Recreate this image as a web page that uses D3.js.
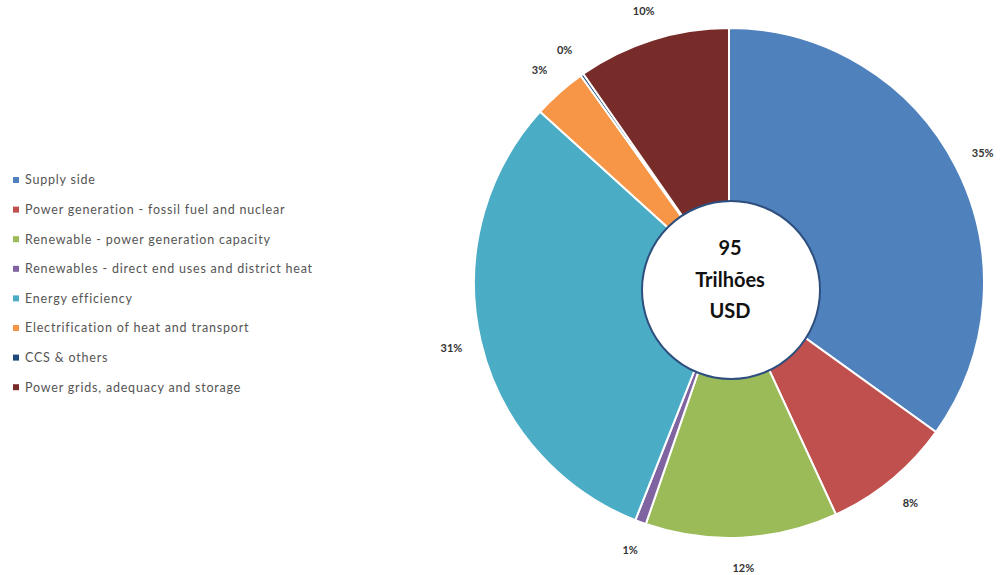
<!DOCTYPE html>
<html>
<head>
<meta charset="utf-8">
<script src="https://cdn.jsdelivr.net/npm/d3@7"></script>
<style>
  body { margin: 0; background: #fff; }
  svg { display: block; }
</style>
</head>
<body>
<div id="chart"></div>
<script>
// *** DATA ***
let categories = [
  "Supply side",
  "Power generation - fossil fuel and nuclear",
  "Renewable - power generation capacity",
  "Renewables - direct end uses and district heat",
  "Energy efficiency",
  "Electrification of heat and transport",
  "CCS & others",
  "Power grids, adequacy and storage"
];
let shares = [35, 8.2, 12.2, 0.7, 30.8, 3.4, 0.2, 9.7];
let centerLines = ["95", "Trilhões", "USD"];

// *** SETTINGS ***
let width = 1007, height = 575;
let cx = 729, cy = 283, radius = 255, labelRadius = 285;
let colors = ["#4f81bd", "#c0504d", "#9bbb59", "#8064a2", "#4bacc6", "#f79646", "#1f497d", "#772c2a"];
let lgLeft = 13, lgTop = 180, lgStep = 29.6;

let svg = d3.select("#chart").append("svg")
  .attr("width", width)
  .attr("height", height);

let total = d3.sum(shares);
let pie = d3.pie().sort(null).value(d => d)(shares);
let arc = d3.arc().innerRadius(0).outerRadius(radius);
let labelArc = d3.arc().innerRadius(labelRadius).outerRadius(labelRadius);

let g = svg.append("g").attr("transform", `translate(${cx},${cy})`);

//slices
g.selectAll("path")
  .data(pie)
  .enter()
  .append("path")
    .attr("d", arc)
    .attr("fill", (d, i) => colors[i])
    .attr("stroke", "white")
    .attr("stroke-width", 2);

//percent labels
g.selectAll("text.pct")
  .data(pie)
  .enter()
  .append("text")
    .attr("class", "pct")
    .attr("transform", d => `translate(${labelArc.centroid(d)})`)
    .attr("text-anchor", "middle")
    .attr("dy", "0.35em")
    .style("font-family", "Lato, 'Open Sans', sans-serif")
    .style("font-weight", "bold")
    .style("font-size", "11px")
    .style("fill", "#333")
    .text(d => Math.round(d.value / total * 100) + "%");

//center hole
g.append("circle")
  .attr("cx", 2)
  .attr("cy", 7)
  .attr("r", 89)
  .attr("fill", "white")
  .attr("stroke", "#2e4f7e")
  .attr("stroke-width", 2);

g.selectAll("text.center")
  .data(centerLines)
  .enter()
  .append("text")
    .attr("class", "center")
    .attr("x", 1)
    .attr("y", (d, i) => -35 + i * 31.5)
    .attr("text-anchor", "middle")
    .attr("dy", "0.35em")
    .style("font-family", "Lato, 'Open Sans', sans-serif")
    .style("font-weight", "bold")
    .style("font-size", "20px")
    .style("fill", "#111")
    .text(d => d);

//legend
let legend = svg.append("g").attr("class", "legend");

legend.selectAll("rect")
  .data(categories)
  .enter()
  .append("rect")
    .attr("x", lgLeft)
    .attr("y", (d, i) => lgTop + i * lgStep - 3)
    .attr("width", 6)
    .attr("height", 6)
    .attr("fill", (d, i) => colors[i]);

legend.selectAll("text")
  .data(categories)
  .enter()
  .append("text")
    .attr("x", lgLeft + 12)
    .attr("y", (d, i) => lgTop + i * lgStep)
    .attr("dy", "0.35em")
    .style("font-family", "Lato, 'Open Sans', sans-serif")
    .style("font-size", "12.5px")
    .style("letter-spacing", "0.8px")
    .style("fill", "#555")
    .text(d => d);
</script>
</body>
</html>
